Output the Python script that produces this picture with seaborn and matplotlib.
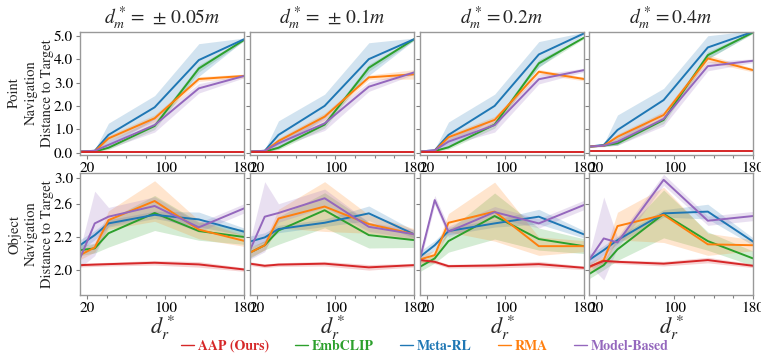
import numpy as np
import matplotlib
matplotlib.use('Agg')
import matplotlib.pyplot as plt
from matplotlib.lines import Line2D
from matplotlib.ticker import FixedLocator
import seaborn as sns

sns.set_style('ticks')
plt.rcParams['font.family'] = ['STIXGeneral', 'DejaVu Serif']
plt.rcParams['mathtext.fontset'] = 'stix'

# x positions (d_r*)
x = [13, 28, 42, 89, 134, 180]

titles = [r'$d_m^* =\,\pm\,0.05m$', r'$d_m^* =\,\pm\,0.1m$', r'$d_m^* = 0.2m$', r'$d_m^* = 0.4m$']
methods = ['AAP (Ours)', 'EmbCLIP', 'Meta-RL', 'RMA', 'Model-Based']
colors = ['#d62728', '#2ca02c', '#1f77b4', '#ff7f0e', '#9467bd']

# ---- Point navigation (one row per panel) ----
pt_aap = [[0.03, 0.03, 0.03, 0.03, 0.03, 0.03],
          [0.03, 0.03, 0.03, 0.03, 0.03, 0.03],
          [0.04, 0.04, 0.04, 0.04, 0.04, 0.04],
          [0.06, 0.06, 0.06, 0.06, 0.06, 0.06]]
pt_emb = [[0.05, 0.05, 0.21, 1.14, 3.60, 4.82],
          [0.05, 0.05, 0.21, 1.20, 3.63, 4.85],
          [0.05, 0.07, 0.23, 1.20, 3.82, 4.92],
          [0.26, 0.30, 0.40, 1.40, 4.17, 5.14]]
pt_meta = [[0.05, 0.08, 0.76, 1.94, 3.96, 4.85],
           [0.05, 0.08, 0.76, 2.00, 4.00, 4.85],
           [0.05, 0.10, 0.76, 2.00, 4.20, 5.10],
           [0.26, 0.33, 0.97, 2.25, 4.50, 5.17]]
pt_rma = [[0.05, 0.06, 0.61, 1.47, 3.15, 3.28],
          [0.05, 0.06, 0.50, 1.54, 3.22, 3.35],
          [0.05, 0.08, 0.66, 1.40, 3.46, 3.15],
          [0.26, 0.30, 0.68, 1.61, 4.03, 3.53]]
pt_mb = [[0.05, 0.08, 0.33, 1.18, 2.75, 3.28],
         [0.05, 0.08, 0.40, 1.25, 2.82, 3.43],
         [0.05, 0.10, 0.47, 1.18, 3.14, 3.53],
         [0.26, 0.30, 0.47, 1.44, 3.70, 3.93]]

pt_aap_sd = [0.03, 0.03, 0.03, 0.03, 0.03, 0.03]
pt_emb_sd = [0.02, 0.03, 0.08, 0.15, 0.15, 0.05]
pt_meta_sd = [[0.03, 0.05, 0.50, 0.50, 0.70, 0.05],
              [0.03, 0.05, 0.60, 0.50, 0.70, 0.05],
              [0.03, 0.05, 0.55, 0.50, 0.55, 0.05],
              [0.03, 0.05, 0.64, 0.50, 0.50, 0.05]]
pt_rma_sd = [[0.02, 0.03, 0.12, 0.15, 0.10, 0.08],
             [0.02, 0.03, 0.12, 0.15, 0.10, 0.20],
             [0.02, 0.03, 0.12, 0.15, 0.10, 0.08],
             [0.02, 0.03, 0.12, 0.15, 0.15, 0.08]]
pt_mb_sd = [0.03, 0.05, 0.15, 0.30, 0.20, 0.08]

# ---- Object navigation ----
ob_aap = [[2.054, 2.060, 2.065, 2.080, 2.062, 2.007],
          [2.070, 2.047, 2.060, 2.070, 2.030, 2.054],
          [2.109, 2.090, 2.043, 2.050, 2.065, 2.025],
          [2.036, 2.100, 2.090, 2.070, 2.109, 2.047]]
ob_emb = [[2.217, 2.236, 2.400, 2.620, 2.424, 2.360],
          [2.190, 2.270, 2.430, 2.650, 2.380, 2.326],
          [2.036, 2.127, 2.315, 2.587, 2.337, 2.260],
          [1.957, 2.054, 2.225, 2.610, 2.315, 2.127]]
ob_meta = [[2.270, 2.380, 2.507, 2.600, 2.550, 2.417],
           [2.310, 2.355, 2.446, 2.514, 2.616, 2.390],
           [2.145, 2.270, 2.424, 2.507, 2.580, 2.388],
           [2.109, 2.217, 2.326, 2.616, 2.635, 2.310]]
ob_rma = [[2.163, 2.246, 2.543, 2.750, 2.440, 2.318],
          [2.190, 2.270, 2.560, 2.690, 2.500, 2.390],
          [2.116, 2.163, 2.514, 2.635, 2.260, 2.260],
          [2.030, 2.109, 2.478, 2.600, 2.280, 2.270]]
ob_mb = [[2.127, 2.507, 2.580, 2.696, 2.464, 2.670],
         [2.217, 2.580, 2.620, 2.780, 2.470, 2.390],
         [2.127, 2.760, 2.417, 2.630, 2.507, 2.707],
         [2.109, 2.344, 2.300, 2.980, 2.536, 2.587]]

ob_aap_sd = [0.02, 0.02, 0.02, 0.025, 0.03, 0.02]
ob_emb_sd = [[0.06, 0.05, 0.15, 0.19, 0.10, 0.08],
             [0.06, 0.05, 0.15, 0.19, 0.14, 0.08],
             [0.05, 0.05, 0.12, 0.25, 0.12, 0.08],
             [0.05, 0.05, 0.12, 0.26, 0.10, 0.08]]
ob_meta_sd = [0.06, 0.05, 0.04, 0.04, 0.08, 0.04]
ob_rma_sd = [[0.05, 0.05, 0.10, 0.22, 0.10, 0.06],
             [0.05, 0.05, 0.10, 0.27, 0.10, 0.06],
             [0.05, 0.05, 0.10, 0.32, 0.10, 0.06],
             [0.05, 0.05, 0.15, 0.30, 0.12, 0.06]]
ob_mb_sd = [[0.10, 0.35, 0.10, 0.10, 0.05, 0.05],
            [0.10, 0.38, 0.10, 0.10, 0.05, 0.05],
            [0.05, 0.05, 0.06, 0.06, 0.05, 0.05],
            [0.05, 0.45, 0.06, 0.06, 0.05, 0.05]]


def pick(arr, i):
    # per-panel list or one list shared by all panels
    return arr[i] if isinstance(arr[0], list) else arr


fig = plt.figure(figsize=(7.61, 3.58), dpi=100)
lefts = [80, 250, 420, 589]
rows = [(32, 155), (173, 295)]
W, H = 761, 358

point = [pt_aap, pt_emb, pt_meta, pt_rma, pt_mb]
point_sd = [pt_aap_sd, pt_emb_sd, pt_meta_sd, pt_rma_sd, pt_mb_sd]
obj = [ob_aap, ob_emb, ob_meta, ob_rma, ob_mb]
obj_sd = [ob_aap_sd, ob_emb_sd, ob_meta_sd, ob_rma_sd, ob_mb_sd]
draw_order = [1, 2, 3, 4, 0]

for r, (means, sds) in enumerate([(point, point_sd), (obj, obj_sd)]):
    top, bot = rows[r]
    for i in range(4):
        ax = fig.add_axes([lefts[i] / W, 1 - bot / H, 164 / W, (bot - top) / H])
        for k in draw_order:
            m = np.array(means[k][i])
            s = np.array(pick(sds[k], i))
            ax.fill_between(x, m - s, m + s, color=colors[k], alpha=0.2, lw=0)
        for k in draw_order:
            sns.lineplot(x=x, y=means[k][i], ax=ax, color=colors[k], lw=1.4)
        ax.set_xlim(13, 180)
        ax.set_xticks([20, 100, 180])
        ax.xaxis.set_minor_locator(FixedLocator([40, 60, 80, 120, 140, 160]))
        if r == 0:
            ax.set_ylim(-0.1, 5.16)
            ax.set_yticks([0, 1, 2, 3, 4, 5])
            ax.set_yticklabels(['0.0', '1.0', '2.0', '3.0', '4.0', '5.0'])
            ax.set_title(titles[i], fontsize=14, pad=6)
        else:
            ax.set_ylim(1.73, 3.054)
            ax.set_yticks([2.0, 2.36, 2.72, 3.0])
            ax.set_yticklabels(['2.0', '2.2', '2.6', '3.0'])
            ax.set_xlabel(r'$d_r^*$', fontsize=16, labelpad=-1)
        if i > 0:
            ax.set_yticklabels([])
        for sp in ax.spines.values():
            sp.set_visible(True)
            sp.set_color('#999999')
            sp.set_linewidth(1.0)
        ax.tick_params(which='both', colors='#808080', labelcolor='black',
                       labelsize=11, length=3, width=0.8, pad=2)
        ax.tick_params(which='minor', length=2)

fig.text(31 / W, 1 - 93 / H, 'Point\nNavigation\nDistance to Target', rotation=90,
         ha='center', va='center', fontsize=10.5, linespacing=1.3)
fig.text(31 / W, 1 - 234 / H, 'Object\nNavigation\nDistance to Target', rotation=90,
         ha='center', va='center', fontsize=10.5, linespacing=1.3)

handles = [Line2D([0], [0], color=c, lw=1) for c in colors]
fig.legend(handles, methods, loc='center', bbox_to_anchor=(425 / W, 1 - 346 / H), ncol=5,
           frameon=False, labelcolor=colors, handlelength=0.9, handletextpad=0.3,
           columnspacing=1.9, prop={'family': 'STIXGeneral', 'weight': 'bold', 'size': 10})

fig.savefig('out.png', dpi=100)
